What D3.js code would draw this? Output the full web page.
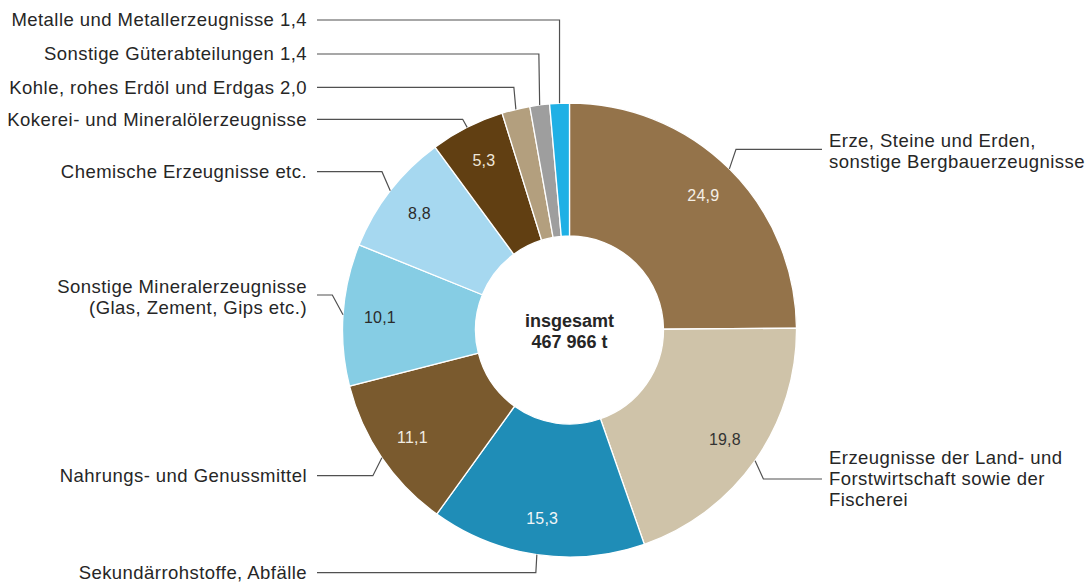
<!DOCTYPE html>
<html>
<head>
<meta charset="utf-8">
<script src="https://cdn.jsdelivr.net/npm/d3@7/dist/d3.min.js"></script>
<style>
  html, body { margin: 0; padding: 0; background: #fff; }
  svg { display: block; }
  text { font-family: "Liberation Sans", Arial, sans-serif; }
</style>
</head>
<body>
<svg id="chart" width="1089" height="585"></svg>
<script>
// ---- data ----
const categories = [
  "Erze, Steine und Erden, sonstige Bergbauerzeugnisse",
  "Erzeugnisse der Land- und Forstwirtschaft sowie der Fischerei",
  "Sekundärrohstoffe, Abfälle",
  "Nahrungs- und Genussmittel",
  "Sonstige Mineralerzeugnisse (Glas, Zement, Gips etc.)",
  "Chemische Erzeugnisse etc.",
  "Kokerei- und Mineralölerzeugnisse",
  "Kohle, rohes Erdöl und Erdgas",
  "Sonstige Güterabteilungen",
  "Metalle und Metallerzeugnisse"
];
const values = [24.9, 19.8, 15.3, 11.1, 10.1, 8.8, 5.3, 2.0, 1.4, 1.4];
const labelLines = [
  ["Erze, Steine und Erden,", "sonstige Bergbauerzeugnisse"],
  ["Erzeugnisse der Land- und", "Forstwirtschaft sowie der", "Fischerei"],
  ["Sekundärrohstoffe, Abfälle"],
  ["Nahrungs- und Genussmittel"],
  ["Sonstige Mineralerzeugnisse", "(Glas, Zement, Gips etc.)"],
  ["Chemische Erzeugnisse etc."],
  ["Kokerei- und Mineralölerzeugnisse"],
  ["Kohle, rohes Erdöl und Erdgas"],
  ["Sonstige Güterabteilungen"],
  ["Metalle und Metallerzeugnisse"]
];
const valueInLabel = [false, false, false, false, false, false, false, true, true, true];
const valueInSlice = [true, true, true, true, true, true, true, false, false, false];
const centerLines = ["insgesamt", "467 966 t"];

// ---- style / layout ----
const colors = ["#94734a", "#cfc3a9", "#1f8db7", "#7a5a2e", "#86cde4",
                "#a6d8f0", "#613f12", "#b39f7e", "#9e9e9e", "#1fb0e5"];
const valueTextColors = ["#f4efe6", "#333333", "#f2f6f8", "#f1ece2", "#2b2b2b",
                         "#2b2b2b", "#efe7da", "#fff", "#fff", "#fff"];
const side = ["right", "right", "left", "left", "left", "left", "left", "left", "left", "left"];
const leaderY = [149.3, 479, 572.7, 475.7, 295, 171.7, 119.3, 87.3, 54, 20];
const elbowDx = [6.6, 8.3, -1, -9, -10.7, -8.3, -4.5, -2, -0.8, 0];
const textTopY = [140.7, 458, 572.7, 475.7, 287, 171.7, 119.3, 87.3, 54, 20];

const cx = 569.5, cy = 330, R = 227, r = 94, valueR = 190;
const lineH = 21;
const leftTextX = 307, leftLineX = 317;
const rightTextX = 829, rightLineX = 822;

const fmt = v => d3.format(".1f")(v).replace(".", ",");

const svg = d3.select("#chart");
const g = svg.append("g").attr("transform", `translate(${cx},${cy})`);

const pie = d3.pie().sort(null).value(d => d)(values);
const arc = d3.arc().innerRadius(r).outerRadius(R);

g.selectAll("path.slice")
  .data(pie)
  .join("path")
  .attr("class", "slice")
  .attr("d", arc)
  .attr("fill", (d, i) => colors[i])
  .attr("stroke", "#fff")
  .attr("stroke-width", 1.3)
  .attr("stroke-linejoin", "round");

// value labels inside slices
const valArc = d3.arc().innerRadius(valueR).outerRadius(valueR);
g.selectAll("text.val")
  .data(pie.filter((d, i) => valueInSlice[i]))
  .join("text")
  .attr("class", "val")
  .attr("transform", d => `translate(${valArc.centroid(d)})`)
  .attr("text-anchor", "middle")
  .attr("dy", "0.36em")
  .attr("font-size", 16)
  .attr("letter-spacing", 0.2)
  .attr("fill", d => valueTextColors[d.index])
  .text(d => fmt(d.data));

// leader lines
pie.forEach((d, i) => {
  const mid = (d.startAngle + d.endAngle) / 2;
  const ox = R * Math.sin(mid), oy = -R * Math.cos(mid);
  const ex = ox + elbowDx[i], ey = leaderY[i] - cy;
  const lx = (side[i] === "left" ? leftLineX : rightLineX) - cx;
  g.append("path")
    .attr("d", d3.line()([[ox, oy], [ex, ey], [lx, ey]]))
    .attr("fill", "none")
    .attr("stroke", "#505050")
    .attr("stroke-width", 1.2);
});

// category labels
pie.forEach((d, i) => {
  const isLeft = side[i] === "left";
  const t = svg.append("text")
    .attr("text-anchor", isLeft ? "end" : "start")
    .attr("font-size", 18.5)
    .attr("letter-spacing", 0.45)
    .attr("fill", "#262626");
  labelLines[i].forEach((line, j) => {
    let txt = line;
    if (valueInLabel[i] && j === labelLines[i].length - 1) txt += " " + fmt(values[i]);
    t.append("tspan")
      .attr("x", isLeft ? leftTextX : rightTextX)
      .attr("y", textTopY[i] + j * lineH)
      .attr("dy", "0.35em")
      .text(txt);
  });
});

// center text
const ct = g.append("text")
  .attr("text-anchor", "middle")
  .attr("font-size", 18)
  .attr("font-weight", "bold")
  .attr("fill", "#262626");
centerLines.forEach((line, j) => {
  ct.append("tspan")
    .attr("x", 0)
    .attr("y", -9.5 + j * 21)
    .attr("dy", "0.35em")
    .text(line);
});
</script>
</body>
</html>
